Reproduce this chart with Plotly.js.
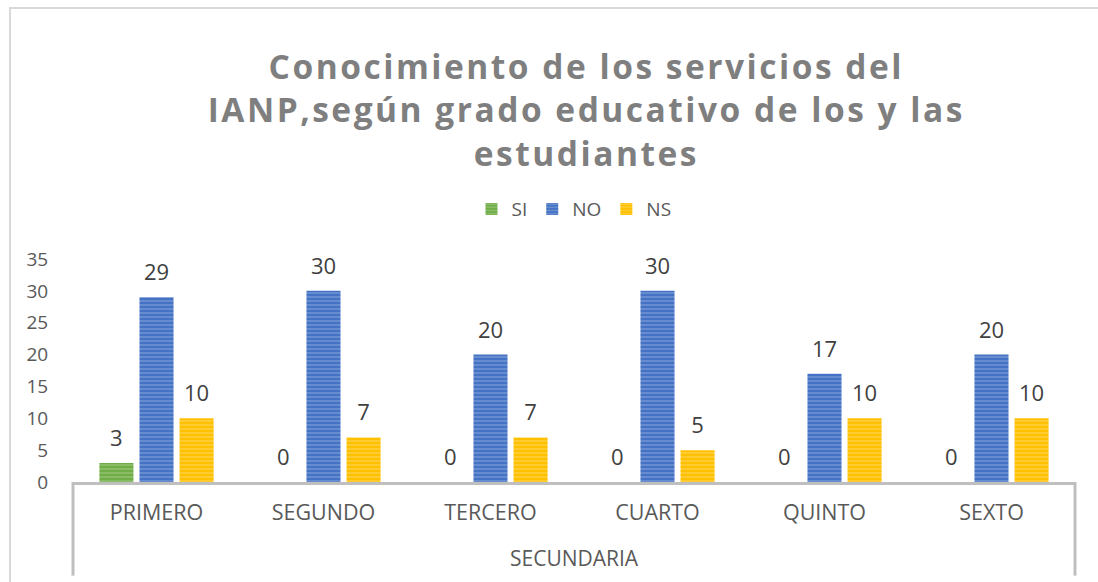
<!DOCTYPE html>
<html>
<head>
<meta charset="utf-8">
<script src="https://cdn.plot.ly/plotly-3.0.1.min.js"></script>
<style>
  html, body { margin: 0; padding: 0; background: #fff; }
  #wrap { position: relative; width: 1098px; height: 582px; overflow: hidden; }
  #chart { width: 1098px; height: 582px; }
  #frame { position: absolute; left: 9px; top: 7px; width: 1200px; height: 700px;
           border-left: 2px solid #d9d9d9; border-top: 2px solid #d9d9d9; pointer-events: none; }
</style>
</head>
<body>
<div id="wrap">
  <div id="chart"></div>
  <div id="frame"></div>
</div>
<script>
const groupLabel = "SECUNDARIA";
const grades = ["PRIMERO", "SEGUNDO", "TERCERO", "CUARTO", "QUINTO", "SEXTO"];
const siValues = [3, 0, 0, 0, 0, 0];
const noValues = [29, 30, 20, 30, 17, 20];
const nsValues = [10, 7, 7, 5, 10, 10];
const yTicks = [0, 5, 10, 15, 20, 25, 30, 35];

const fontFam = "Open Sans, sans-serif";

function series(name, values, color, stripe) {
  return {
    type: "bar",
    name: name,
    x: grades,
    y: values,
    text: values.map(String),
    textposition: "outside",
    cliponaxis: false,
    textfont: { family: fontFam, size: 22, color: "#404040" },
    marker: {
      color: color,
      line: { width: 0 },
      pattern: { shape: "-", bgcolor: color, fgcolor: stripe, size: 4, solidity: 0.4, fillmode: "overlay" }
    },
    hoverinfo: "x+y+name"
  };
}

const data = [
  series("SI", siValues, "#70AD47", "rgba(255,255,255,0.45)"),
  series("NO", noValues, "#4472C4", "rgba(255,255,255,0.45)"),
  series("NS", nsValues, "#FFC000", "rgba(255,255,255,0.45)")
];

const axisGray = "#bfbfbf";

const layout = {
  width: 1098, height: 582,
  margin: { l: 73, r: 23, t: 259, b: 100 },
  paper_bgcolor: "#ffffff",
  plot_bgcolor: "#ffffff",
  barmode: "group",
  bargap: 0.28,
  bargroupgap: 0.15,
  showlegend: true,
  title: {
    text: "Conocimiento de los servicios del<br>IANP,según grado educativo de los y las<br>estudiantes",
    font: { family: fontFam, size: 33.5, color: "#7f7f7f", weight: 700 },
    x: 0.534, xanchor: "center",
    y: 0.865, yanchor: "top"
  },
  legend: {
    orientation: "h",
    x: 0.5, xanchor: "center",
    y: 1.224, yanchor: "middle",
    font: { family: fontFam, size: 19, color: "#595959" },
    itemwidth: 30,
    traceorder: "normal"
  },
  xaxis: {
    type: "category",
    showline: true, linecolor: axisGray, linewidth: 3,
    showgrid: false, ticks: "outside", ticklen: 9, tickcolor: "rgba(0,0,0,0)",
    tickfont: { family: fontFam, size: 21.5, color: "#595959" },
    zeroline: false
  },
  yaxis: {
    range: [0, 35],
    tickvals: yTicks,
    ticktext: yTicks.map(String),
    showgrid: false, zeroline: false, showline: false,
    ticks: "outside", ticklen: 20, tickcolor: "rgba(0,0,0,0)",
    tickfont: { family: fontFam, size: 19, color: "#595959" }
  },
  annotations: [{
    text: groupLabel,
    xref: "paper", yref: "paper",
    x: 0.5, y: -0.341, xanchor: "center", yanchor: "middle",
    showarrow: false,
    font: { family: fontFam, size: 21, color: "#595959" }
  }],
  shapes: [
    { type: "line", xref: "paper", yref: "paper", x0: 0, x1: 0, y0: 0, y1: -0.42,
      line: { color: axisGray, width: 3 } },
    { type: "line", xref: "paper", yref: "paper", x0: 1, x1: 1, y0: 0, y1: -0.42,
      line: { color: axisGray, width: 3 } }
  ]
};

Plotly.newPlot("chart", data, layout, { displayModeBar: false, responsive: false }).then(function () {
  document.querySelectorAll(".gtitle, .gtitle tspan").forEach(function (el) {
    el.style.letterSpacing = "2.5px";
  });
  document.querySelectorAll(".bartext").forEach(function (el) {
    el.setAttribute("transform", (el.getAttribute("transform") || "") + " translate(0,-8)");
  });
});
</script>
</body>
</html>
